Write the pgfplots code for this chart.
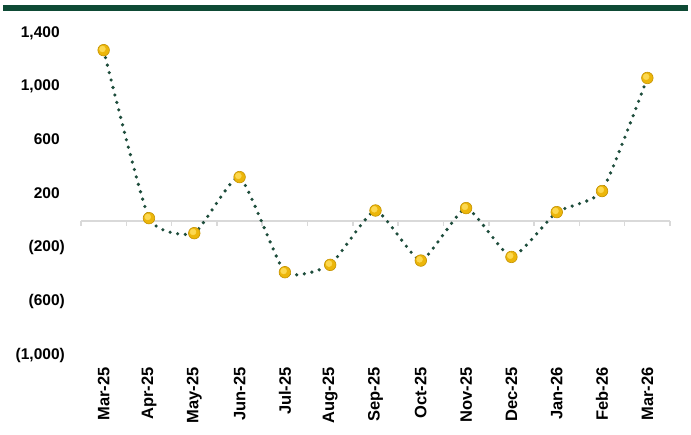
\documentclass[border=0pt]{standalone}
\usepackage{pgfplots}
\pgfplotsset{compat=1.18}
\usepackage{fontspec}
\setmainfont{Liberation Sans}
\definecolor{topgreen}{RGB}{14,74,53}
\definecolor{linegreen}{RGB}{30,77,60}
\definecolor{axisgray}{RGB}{217,217,217}
\definecolor{gold}{RGB}{236,182,10}
\definecolor{golddark}{RGB}{196,146,0}
\definecolor{goldlight}{RGB}{252,216,80}
\begin{document}
\begin{tikzpicture}[x=1pt,y=1pt]
\useasboundingbox (0,0) rectangle (691,434);
\fill[topgreen] (3,423) rectangle (688,428.5);
\begin{axis}[
  at={(81pt,79pt)}, anchor=south west,
  scale only axis, width=589pt, height=322pt,
  xmin=-0.5, xmax=12.5, ymin=-1000, ymax=1400,
  axis line style={draw=none},
  major tick length=0pt,
  xtick={0,...,12},
  xticklabels={Mar-25,Apr-25,May-25,Jun-25,Jul-25,Aug-25,Sep-25,Oct-25,Nov-25,Dec-25,Jan-26,Feb-26,Mar-26},
  ytick={-1000,-600,-200,200,600,1000,1400},
  yticklabels={{(1,000)},{(600)},{(200)},{200\phantom{)}},{600\phantom{)}},{1,000\phantom{)}},{1,400\phantom{)}}},
  yticklabel style={font=\bfseries\fontsize{15.5}{18}\selectfont, inner sep=0pt, anchor=east},
  xticklabel style={font=\bfseries\fontsize{16.5}{19}\selectfont, inner sep=0pt, rotate=90, anchor=east},
  xticklabel shift=12pt,
  yticklabel shift=16pt,
  clip=false,
]
\addplot[color=axisgray, line width=1.5pt, forget plot] coordinates {(-0.5,0) (12.5,0)};
\addplot[color=axisgray, line width=1.5pt, ycomb, forget plot] coordinates {
(-0.5,-38) (0.5,-38) (1.5,-38) (2.5,-38) (3.5,-38) (4.5,-38) (5.5,-38) (6.5,-38) (7.5,-38) (8.5,-38) (9.5,-38) (10.5,-38) (11.5,-38) (12.5,-38)};
\addplot[color=linegreen, line width=3.6pt, dash pattern=on 0pt off 7.7pt, line cap=round, smooth, tension=0.3, mark=none] coordinates {
(0,1272) (1,20) (2,-92) (3,326) (4,-383) (5,-328) (6,77) (7,-296) (8,95) (9,-269) (10,65) (11,222) (12,1065)};
\addplot[only marks, color=golddark, mark=*, mark size=5.8pt, mark options={fill=gold, line width=0.6pt}] coordinates {
(0,1272) (1,20) (2,-92) (3,326) (4,-383) (5,-328) (6,77) (7,-296) (8,95) (9,-269) (10,65) (11,222) (12,1065)};
\addplot[only marks, color=goldlight, mark=*, mark size=3pt, mark options={fill=goldlight, draw=goldlight, xshift=-1.2pt, yshift=1.2pt}, forget plot] coordinates {
(0,1272) (1,20) (2,-92) (3,326) (4,-383) (5,-328) (6,77) (7,-296) (8,95) (9,-269) (10,65) (11,222) (12,1065)};
\end{axis}
\end{tikzpicture}
\end{document}
